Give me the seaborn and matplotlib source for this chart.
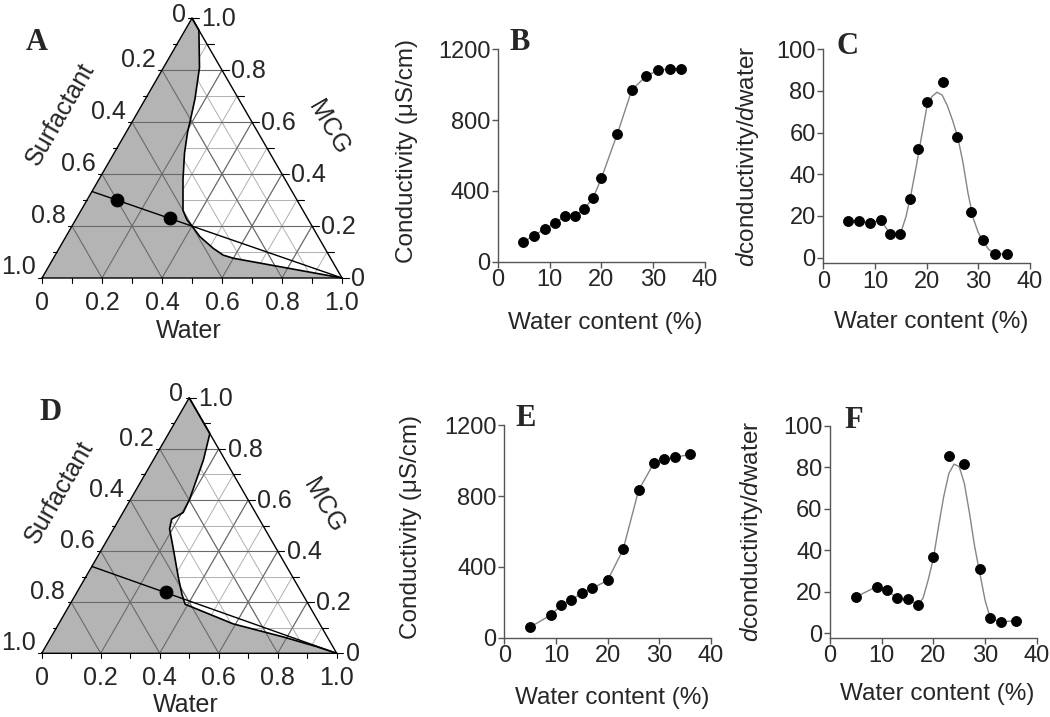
import numpy as np
import matplotlib
matplotlib.use("Agg")
import matplotlib.pyplot as plt
import seaborn as sns

sns.set_style("ticks")
plt.rcParams["font.family"] = ["Liberation Sans", "DejaVu Sans"]
plt.rcParams["mathtext.fontset"] = "custom"
plt.rcParams["mathtext.it"] = "Liberation Sans:italic"
plt.rcParams["mathtext.rm"] = "Liberation Sans"

# ===== DATA =====

# panel B / C (water content %, conductivity, derivative)
b_water = [4.8, 6.9, 9.1, 11.1, 13.0, 14.9, 16.7, 18.4, 20.0, 23.1, 25.9, 28.6, 31.0, 33.3, 35.5]
b_cond = [109, 147, 186, 220, 258, 258, 300, 360, 471, 723, 970, 1047, 1083, 1089, 1090]
c_deriv = [17.6, 17.6, 16.6, 18.1, 11.2, 11.2, 28.3, 52.2, 74.7, 84.2, 58.1, 22.1, 8.3, 1.8, 1.8]
# fitted curve in C
c_fit_x = [4.8, 6.9, 9.1, 11.1, 13.0, 14.9, 16, 17, 18, 19, 20, 21, 22, 23, 24, 25, 26, 27, 28, 29, 30, 31, 32, 33.3, 35.5]
c_fit_y = [17.6, 17.6, 16.6, 18.1, 11.2, 11.2, 19.7, 30.9, 44, 58, 71.7, 77.3, 79.4, 78, 73, 66, 58, 46, 31, 19, 12, 7.5, 4, 1.8, 1.8]

# panel E / F
e_water = [5, 9, 11, 13, 15, 17, 20, 23, 26, 29, 31, 33, 36]
e_cond = [60, 128, 183, 215, 252, 279, 324, 499, 834, 989, 1008, 1019, 1036]
f_deriv = [17.5, 22.5, 20.9, 16.9, 16.4, 13.8, 36.6, 85.6, 81.7, 31.0, 7.5, 5.5, 6.1]
f_fit_x = [5, 9, 11, 13, 15, 17, 18, 19, 20, 21, 22, 23, 24, 25, 26, 27, 28, 29, 30, 31, 33, 36]
f_fit_y = [17.5, 22.5, 20.9, 16.9, 16.4, 13.8, 16.9, 25.7, 36, 51.4, 65.8, 77, 81.5, 80.3, 72.2, 57.8, 41.7, 28.9, 16, 7.5, 5.5, 6.1]

# ternary phase boundaries (water, MCG); surfactant = 1 - water - MCG
a_bound_w = [0.0, 0.046, 0.12, 0.165, 0.19, 0.205, 0.235, 0.28, 0.32, 0.34, 0.37, 0.40, 0.447, 0.514, 0.56, 0.60, 1.0]
a_bound_m = [1.0, 0.954, 0.81, 0.69, 0.61, 0.56, 0.48, 0.38, 0.30, 0.26, 0.225, 0.20, 0.159, 0.114, 0.088, 0.076, 0.0]
a_dil_mcg = 0.333
a_dot_w = [0.10, 0.31]
a_dot_m = [0.30, 0.23]

d_bound_w = [0.0, 0.14, 0.17, 0.20, 0.204, 0.178, 0.19, 0.241, 0.316, 0.36, 0.39, 0.592, 0.787, 0.919, 1.0]
d_bound_m = [1.0, 0.86, 0.756, 0.602, 0.551, 0.525, 0.487, 0.41, 0.295, 0.231, 0.192, 0.115, 0.064, 0.026, 0.0]
d_dil_mcg = 0.34
d_dot_w = [0.30]
d_dot_m = [0.24]

tern_labels = ["0", "0.2", "0.4", "0.6", "0.8", "1.0"]

W, H = 1050, 717
fig = plt.figure(figsize=(W / 100, H / 100), dpi=100)
TFS = 18     # ternary text
FS = 17      # tick labels
LFS = 17.5   # axis labels
H3 = np.sqrt(3) / 2


def xy(w, m):
    w = np.asarray(w, float)
    m = np.asarray(m, float)
    return w + m / 2, m * H3


def ternary(x0, base, s, bw, bm, dil, dw, dm):
    xmin, xmax, ymin, ymax = -0.2, 1.15, -0.25, H3 + 0.06
    rect = [(x0 + xmin * s) / W, 1 - (base - ymin * s) / H,
            (xmax - xmin) * s / W, (ymax - ymin) * s / H]
    ax = fig.add_axes(rect)
    ax.set_xlim(xmin, xmax)
    ax.set_ylim(ymin, ymax)
    ax.axis("off")

    tenths = np.round(np.arange(0.1, 1.0, 0.1), 2)

    def grid(vals, color, lw, z):
        for v in vals:
            for w0, m0, w1, m1 in [(0, v, 1 - v, v), (v, 0, v, 1 - v), (1 - v, 0, 0, 1 - v)]:
                px, py = xy([w0, w1], [m0, m1])
                ax.plot(px, py, color=color, lw=lw, zorder=z)

    # light fine grid (visible in the white region)
    grid(tenths, "#b0b0b0", 0.7, 1)

    # gray single-phase region
    gw = [0.0] + list(bw) + [1.0]
    gm = [0.0] + list(bm) + [0.0]
    px, py = xy(gw, gm)
    ax.fill(px, py, color="#b4b4b4", lw=0, zorder=2)

    # coarse grid
    grid([0.2, 0.4, 0.6, 0.8], "#6a6a6a", 0.8, 3)

    # boundary line
    px, py = xy(bw, bm)
    ax.plot(px, py, color="black", lw=1.2, zorder=4)

    # triangle outline
    px, py = xy([0, 1, 0, 0], [0, 0, 1, 0])
    ax.plot(px, py, color="black", lw=1.0, zorder=5)

    # dilution line and dots
    px, py = xy([0, 1], [dil, 0])
    ax.plot(px, py, color="black", lw=1.0, zorder=5)
    px, py = xy(dw, dm)
    sns.scatterplot(x=px, y=py, ax=ax, color="black", s=85, edgecolor="black", zorder=6)

    # ticks
    for v in np.round(np.arange(0, 1.01, 0.1), 2):
        ax.plot([v, v], [0, -0.015], color="black", lw=0.8, clip_on=False)
        rx, ry = xy(1 - v, v)
        ax.plot([rx, rx + 0.022], [ry, ry], color="black", lw=0.8, clip_on=False)
        lx, ly = xy(0, v)
        ax.plot([lx, lx - 0.012], [ly, ly], color="black", lw=0.8, clip_on=False)

    # tick labels
    for i, lab in enumerate(tern_labels):
        v = i * 0.2
        ax.text(v, -0.085, lab, ha="center", va="center", fontsize=TFS)
        lx, ly = xy(0, 1 - v)
        dy = 0.012 if i == 0 else 0.035
        ax.text(lx - 0.02, ly + dy, lab, ha="right", va="center", fontsize=TFS)
        rx, ry = xy(v, 1 - v)
        ax.text(rx + 0.03, ry - 0.003, tern_labels[5 - i], ha="left", va="center", fontsize=TFS)

    ax.text(0.49, -0.175, "Water", ha="center", va="center", fontsize=TFS)
    ax.text(0.06, 0.545, "Surfactant", ha="center", va="center", fontsize=TFS, rotation=60)
    ax.text(0.955, 0.50, "MCG", ha="center", va="center", fontsize=TFS, rotation=-60)
    return ax


ternary(42, 278, 300, a_bound_w, a_bound_m, a_dil_mcg, a_dot_w, a_dot_m)
ternary(41.7, 653.3, 295, d_bound_w, d_bound_m, d_dil_mcg, d_dot_w, d_dot_m)


def xy_panel(left, right, ytop, ybot, ylim, yticks, lx, ly, line_x, line_y, pts_x, pts_y, ylabel, xlab_y):
    ax = fig.add_axes([left / W, 1 - ybot / H, (right - left) / W, (ybot - ytop) / H])
    sns.lineplot(x=line_x, y=line_y, ax=ax, color="#858585", lw=1.0, estimator=None, sort=False, zorder=2)
    sns.scatterplot(x=pts_x, y=pts_y, ax=ax, color="black", s=52, edgecolor="black", zorder=3)
    ax.set_xlim(0, 40)
    ax.set_ylim(*ylim)
    ax.set_xticks([0, 10, 20, 30, 40])
    ax.set_yticks(yticks)
    sns.despine(ax=ax)
    for sp in ["left", "bottom"]:
        ax.spines[sp].set_color("#555555")
        ax.spines[sp].set_linewidth(1.0)
    ax.tick_params(labelsize=FS, length=4, width=1.0, color="#555555", pad=1.5)
    ax.set_xlabel("Water content (%)", fontsize=LFS)
    ax.set_ylabel(ylabel, fontsize=LFS)
    ax.yaxis.set_label_coords(lx, ly)
    ax.xaxis.set_label_coords(0.52, xlab_y)
    return ax


cond_label = "Conductivity (\u03bcS/cm)"
der_label = "$d$conductivity/$d$water"

# B
xy_panel(498, 704.7, 49.3, 261.7, (0, 1200), [0, 400, 800, 1200], -0.385, 0.52,
         b_water, b_cond, b_water, b_cond, cond_label, -0.235)
# C
xy_panel(823.3, 1030, 49.3, 263.3, (-2.7, 100), [0, 20, 40, 60, 80, 100], -0.30, 0.5,
         c_fit_x, c_fit_y, b_water, c_deriv, der_label, -0.225)
# E
xy_panel(504.3, 711, 425.3, 637.7, (0, 1200), [0, 400, 800, 1200], -0.40, 0.52,
         e_water, e_cond, e_water, e_cond, cond_label, -0.23)
# F
xy_panel(830, 1036.7, 425.7, 637.7, (-2.1, 100), [0, 20, 40, 60, 80, 100], -0.315, 0.5,
         f_fit_x, f_fit_y, e_water, f_deriv, der_label, -0.215)

# panel letters
for lab, x, y in [("A", 37, 42), ("B", 520, 43), ("C", 848, 46),
                  ("D", 51, 413), ("E", 526, 418), ("F", 854, 420)]:
    fig.text(x / W, 1 - y / H, lab, ha="center", va="center", fontsize=22,
             fontweight="bold", family=["Liberation Serif", "DejaVu Serif"])

fig.savefig("out.png", dpi=100)
